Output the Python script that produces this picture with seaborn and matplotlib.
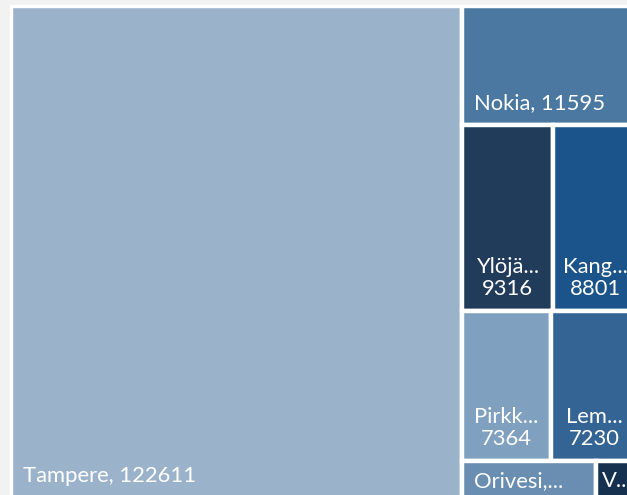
import matplotlib.pyplot as plt
import seaborn as sns
from matplotlib.patches import Rectangle

sns.set_theme(style="white")
plt.rcParams['font.family'] = ['Lato', 'DejaVu Sans']

# data (sorted, biggest first)
cities = ["Tampere", "Nokia", "Ylöjärvi", "Kangasala", "Pirkkala", "Lempäälä", "Orivesi", "Vesilahti"]
shown = ["Tampere", "Nokia", "Ylöjä...", "Kang...", "Pirkk...", "Lem...", "Orivesi,...", "V..."]
values = [122611, 11595, 9316, 8801, 7364, 7230, 2780, 890]
colors = ["#9ab3cb", "#4a78a0", "#213b5a", "#1b548a", "#7fa0bf", "#346494", "#6a8db2", "#16304f"]

# size of the treemap area in pixels (it is cropped by the figure on the right/bottom)
W, H = 627.5, 492.5


def worst(row, side):
    t = sum(row) / side
    return max(max(t * t / a, a / (t * t)) for a in row)


def squarify(areas, x, y, w, h, tol=1.25):
    rects = []
    i = 0
    while i < len(areas):
        side = min(w, h)
        row = [areas[i]]
        while i + len(row) < len(areas):
            cand = row + [areas[i + len(row)]]
            if worst(cand, side) <= worst(row, side) * tol:
                row = cand
            else:
                break
        t = sum(row) / side
        if w >= h:
            yy = y + h
            for a in row:
                hh = a / t
                yy -= hh
                rects.append((x, yy, t, hh))
            x += t
            w -= t
        else:
            xx = x
            for a in row:
                ww = a / t
                rects.append((xx, y + h - t, ww, t))
                xx += ww
            h -= t
        i += len(row)
    return rects


total = sum(values)
areas = [v / total * W * H for v in values]
rects = squarify(areas, 0, 0, W, H)

fig = plt.figure(figsize=(6.27, 4.95), dpi=100, facecolor="#f2f2f2")
fig.add_artist(Rectangle((10 / 627, 0), 1, 1 - 5 / 495, transform=fig.transFigure,
                         facecolor="white", edgecolor="none", zorder=0))
ax = fig.add_axes([11 / 627, 1 - (6 + H) / 495, W / 627, H / 495])
ax.set_xlim(0, W)
ax.set_ylim(0, H)
ax.axis("off")

for (x, y, w, h), name, val, c in zip(rects, shown, values, colors):
    ax.add_patch(Rectangle((x, y), w, h, facecolor=c, edgecolor="white", linewidth=3.2))
    ty = y + 12
    if h > 100 and w > 120:
        txt, ha, tx = f"{name}, {val}", "left", x + 12
    elif h > 100:
        txt, ha, tx = f"{name}\n{val}", "center", x + w / 2
    else:
        # small cells: label sits lower, as in the original
        ty = y + 7
        if w > 120:
            txt, ha, tx = name, "left", x + 12
        else:
            txt, ha, tx = name, "left", x + 6.5
    ax.text(tx, ty, txt, ha=ha, va="bottom", color="white", fontsize=15.8,
            linespacing=1.12, multialignment="center")

fig.savefig("out.png", dpi=100, facecolor=fig.get_facecolor())
